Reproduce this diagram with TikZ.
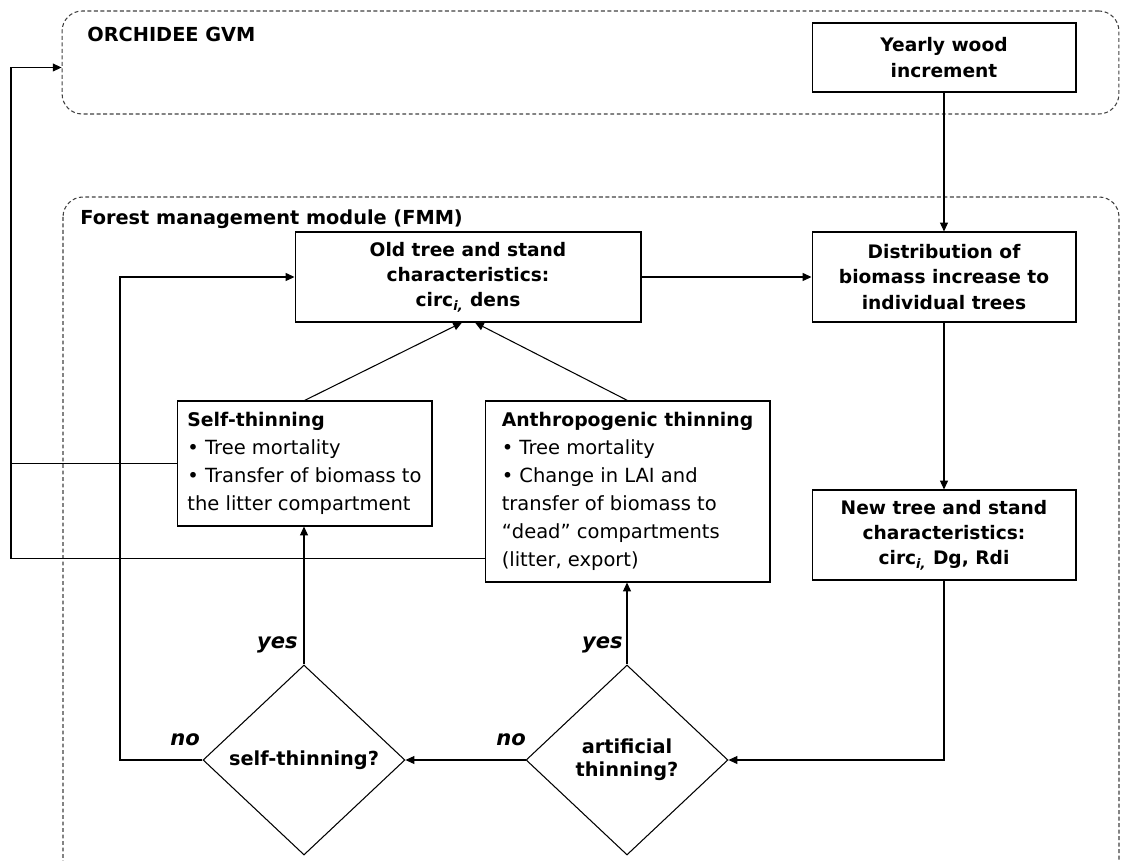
\documentclass[tikz,border=0pt]{standalone}
\usepackage{fontspec}
\setmainfont{DejaVu Sans}
\usetikzlibrary{shapes.geometric, arrows.meta, positioning, calc}

\newcommand{\boxhead}[1]{{\bfseries\fontsize{10.7}{16}\selectfont #1}}

\tikzset{
  box/.style={draw, line width=0.6pt, font=\bfseries\fontsize{10.6}{14.5}\selectfont, align=center, minimum width=5.28cm, minimum height=1.8cm, inner sep=0pt},
  listbox/.style={draw, line width=0.6pt, font=\fontsize{11.1}{16}\selectfont, align=left, inner sep=0pt},
  decision/.style={draw, diamond, line width=0.6pt, font=\bfseries\fontsize{11}{13}\selectfont, align=center, inner sep=0pt, minimum width=4.04cm, minimum height=3.8cm},
  group/.style={draw=black!75, dash pattern=on 2.2pt off 1.5pt, rounded corners=0.4cm, line width=0.6pt},
  arr/.style={-{Triangle[length=5pt,width=4.5pt]}, line width=0.6pt},
  answer/.style={font=\bfseries\itshape\fontsize{12}{14}\selectfont, inner sep=0pt},
  title/.style={anchor=west, font=\bfseries\fontsize{11}{12}\selectfont, inner sep=0pt}
}

\begin{document}
\begin{tikzpicture}[x=0.02cm, y=-0.02cm]
\useasboundingbox (0,0) rectangle (1122,861);
\clip (0,0) rectangle (1122,861);
\node[group, minimum width=21.14cm, minimum height=2.06cm] (orch) at (590.5,62.5) {};
\node[title] (orchlbl) at (87,34) {ORCHIDEE GVM};
\draw[group] (63,197) rectangle (1119,890);
\node[title] (fmmlbl) at (80,219) {Forest management module (FMM)};
\node[box, minimum height=1.38cm] (yearly) at (944,57.5) {Yearly wood\\increment};
\node[box, minimum width=6.92cm] (oldtree) at (468,277) {Old tree and stand\\characteristics:\\circ\textsubscript{\itshape i,} dens};
\node[box] (distrib) at (944,277) {Distribution of\\biomass increase to\\individual trees};
\node[box] (newtree) at (944,535) {New tree and stand\\characteristics:\\circ\textsubscript{\itshape i,} Dg, Rdi};
\node[listbox, minimum width=5.1cm, minimum height=2.5cm] (selfth) at (304.5,463.5) {\boxhead{Self-thinning}\\• Tree mortality\\• Transfer of biomass to\\the litter compartment};
\node[listbox, minimum width=5.7cm, minimum height=3.62cm] (anthro) at (627.5,491.5) {\boxhead{Anthropogenic thinning}\\• Tree mortality\\• Change in LAI and\\transfer of biomass to\\“dead” compartments\\(litter, export)};
\node[decision] (selfq) at (304,760) {self-thinning?};
\node[decision] (artq) at (627,760) {artificial\\thinning?};
\node[answer, anchor=east] (yes1) at (298,645) {yes};
\node[answer, anchor=east] (yes2) at (623,645) {yes};
\node[answer] (no1) at (185,740) {no};
\node[answer] (no2) at (511,740) {no};
\coordinate (selfno) at (120,760);
\coordinate (fbx) at (11,464);
\coordinate (antout) at ($(anthro.south west)+(0,-24)$);
\draw[arr] (yearly) -- (distrib);
\draw[arr] (oldtree) -- (distrib);
\draw[arr] (distrib) -- (newtree);
\draw[arr] (newtree.south) |- (artq.east);
\draw[arr] (artq.west) -- (selfq.east);
\draw[arr] (artq.north) -- (artq.north |- anthro.south);
\draw[arr] (selfq.north) -- (selfq.north |- selfth.south);
\draw[arr] (selfq.west) -- (selfno) |- (oldtree.west);
\draw[arr] (selfth.north) -- ([xshift=-0.12cm]oldtree.south);
\draw[arr] (anthro.north) -- ([xshift=0.14cm]oldtree.south);
\draw[line width=0.6pt] (selfth.west) -- (selfth.west -| fbx);
\draw[arr] (antout) -- (antout -| fbx) |- ([yshift=-0.1cm]orch.west);
\end{tikzpicture}
\end{document}
